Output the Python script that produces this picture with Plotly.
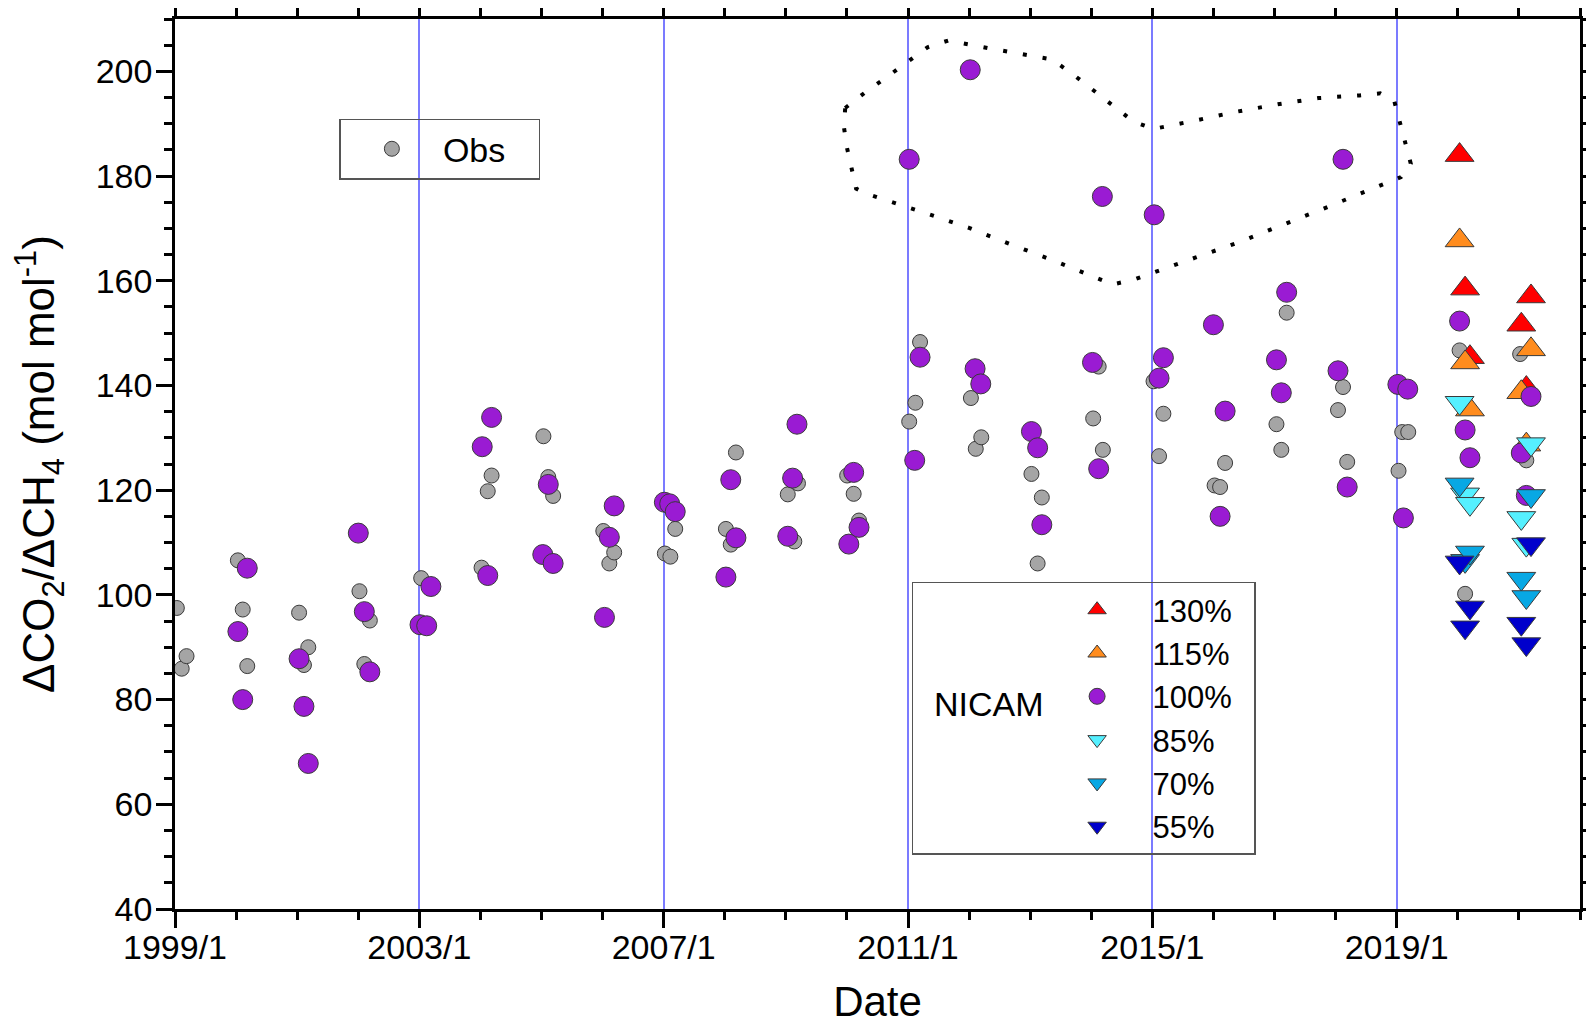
import plotly.graph_objects as go
from datetime import datetime, timedelta

# ---------------- data ----------------
obs_dates = [
    "1999-01-12", "1999-02-10", "1999-03-11",
    "2000-01-12", "2000-02-10", "2000-03-08",
    "2001-01-12", "2001-02-10", "2001-03-08",
    "2002-01-08", "2002-02-06", "2002-03-11",
    "2003-01-12",
    "2004-01-08", "2004-02-14", "2004-03-08",
    "2005-01-12", "2005-02-10", "2005-03-11",
    "2006-01-05", "2006-02-10", "2006-03-11",
    "2007-01-08", "2007-02-10", "2007-03-11",
    "2008-01-08", "2008-02-06", "2008-03-08",
    "2009-01-12", "2009-02-20", "2009-03-14",
    "2010-01-02", "2010-02-10", "2010-03-14",
    "2011-01-08", "2011-02-14", "2011-03-14",
    "2012-01-12", "2012-02-10", "2012-03-14",
    "2013-01-08", "2013-02-14", "2013-03-11",
    "2014-01-12", "2014-02-14", "2014-03-11",
    "2015-01-08", "2015-02-10", "2015-03-08",
    "2016-01-08", "2016-02-10", "2016-03-11",
    "2017-01-12", "2017-02-10", "2017-03-14",
    "2018-01-15", "2018-02-14", "2018-03-11",
    "2019-01-12", "2019-02-03", "2019-03-11",
    "2020-01-12", "2020-02-14",
    "2021-01-08", "2021-02-14",
]
obs_values = [
    97.5, 85.9, 88.3,
    106.6, 97.2, 86.4,
    96.6, 86.6, 90.0,
    100.7, 86.8, 95.1,
    103.2,
    105.2, 119.8, 122.8,
    130.3, 122.5, 118.9,
    112.2, 106.0, 108.1,
    107.9, 107.3, 112.6,
    112.6, 109.6, 127.2,
    119.2, 110.2, 121.3,
    122.8, 119.3, 114.2,
    133.1, 136.7, 148.3,
    137.6, 127.9, 130.1,
    123.1, 106.0, 118.6,
    133.7, 143.6, 127.7,
    140.8, 126.5, 134.6,
    120.9, 120.6, 125.2,
    132.6, 127.7, 153.9,
    135.3, 139.7, 125.4,
    123.7, 131.1, 131.1,
    146.7, 100.2,
    146.0, 125.7,
]

nicam100_dates = [
    "2000-01-12", "2000-02-10", "2000-03-08",
    "2001-01-12", "2001-02-10", "2001-03-08",
    "2002-01-01", "2002-02-06", "2002-03-11",
    "2003-01-05", "2003-02-14", "2003-03-11",
    "2004-01-12", "2004-02-14", "2004-03-08",
    "2005-01-08", "2005-02-10", "2005-03-11",
    "2006-01-12", "2006-02-10", "2006-03-11",
    "2007-01-05", "2007-02-06", "2007-03-11",
    "2008-01-08", "2008-02-06", "2008-03-08",
    "2009-01-12", "2009-02-10", "2009-03-08",
    "2010-01-12", "2010-02-10", "2010-03-14",
    "2011-01-08", "2011-02-10", "2011-03-14",
    "2012-01-08", "2012-02-06", "2012-03-11",
    "2013-01-08", "2013-02-14", "2013-03-11",
    "2014-01-08", "2014-02-14", "2014-03-08",
    "2015-01-12", "2015-02-10", "2015-03-08",
    "2016-01-01", "2016-02-10", "2016-03-11",
    "2017-01-12", "2017-02-10", "2017-03-14",
    "2018-01-15", "2018-02-14", "2018-03-11",
    "2019-01-08", "2019-02-10", "2019-03-08",
    "2020-01-12", "2020-02-14", "2020-03-14",
    "2021-01-15", "2021-02-14", "2021-03-14",
]
nicam100_values = [
    93.0, 80.0, 105.1,
    87.8, 78.7, 67.8,
    111.8, 96.8, 85.3,
    94.3, 94.1, 101.6,
    128.3, 103.7, 133.9,
    107.7, 121.1, 106.0,
    95.7, 111.0, 117.0,
    117.7, 117.4, 115.9,
    103.4, 122.0, 110.9,
    111.2, 122.3, 132.6,
    109.7, 123.4, 112.9,
    183.2, 125.7, 145.4,
    200.3, 143.2, 140.3,
    131.2, 128.1, 113.4,
    144.4, 124.1, 176.1,
    172.6, 141.4, 145.3,
    151.6, 115.0, 135.1,
    144.9, 138.6, 157.8,
    142.8, 183.2, 120.6,
    140.2, 114.7, 139.3,
    152.3, 131.5, 126.2,
    127.1, 119.0, 137.9,
]

scenario_dates = ["2020-01-12", "2020-02-14", "2020-03-14",
                  "2021-01-15", "2021-02-14", "2021-03-14"]
nicam130_values = [184.0, 158.5, 145.4, 151.6, 139.5, 157.0]
nicam115_values = [167.7, 144.4, 135.4, 138.7, 128.7, 146.9]
nicam85_values = [136.7, 119.2, 117.4, 114.7, 109.6, 128.8]
nicam70_values = [121.1, 106.5, 108.1, 103.1, 99.6, 118.9]
nicam55_values = [106.2, 93.8, 97.6, 94.5, 90.6, 109.7]

scenario_labels = ["130%", "115%", "100%", "85%", "70%", "55%"]

# dotted outline around the high-ratio events (decimal year, ratio)
outline_years = [2009.97, 2010.30, 2010.65, 2010.99, 2011.32, 2011.66, 2012.00, 2012.33,
                 2013.00, 2013.35, 2013.68, 2014.01, 2014.35, 2014.69, 2015.02, 2015.70,
                 2016.38, 2017.05, 2017.72, 2018.39, 2018.73, 2018.96, 2019.05, 2019.15,
                 2019.23, 2019.07, 2018.39, 2017.72, 2017.05, 2016.38, 2015.70, 2015.02,
                 2014.69, 2014.35, 2014.01, 2013.35, 2012.67, 2012.00, 2011.32, 2010.99,
                 2010.65, 2010.30, 2010.15, 2010.07, 2010.00, 2009.95, 2009.97]
outline_values = [193.0, 196.0, 198.9, 201.7, 204.6, 205.9, 205.1, 204.4,
                  203.0, 202.3, 199.6, 196.5, 193.5, 190.4, 189.0, 190.6,
                  192.3, 193.7, 194.9, 195.4, 195.8, 194.3, 190.3, 186.3,
                  182.4, 179.8, 176.5, 173.4, 170.3, 167.2, 164.4, 161.6,
                  160.2, 159.3, 160.9, 164.0, 167.0, 170.1, 172.8, 174.0,
                  175.3, 176.7, 177.6, 181.5, 185.4, 189.3, 193.0]


def decimal_year_to_date(y):
    base = datetime(int(y), 1, 1)
    return base + timedelta(days=(y - int(y)) * 365.25)


outline_dates = [decimal_year_to_date(y) for y in outline_years]

FONT = "Liberation Sans, Arial, sans-serif"
EDGE = dict(color="#3a3a3a", width=1)
NB = "\u00a0"

fig = go.Figure()

fig.add_trace(go.Scatter(
    x=outline_dates, y=outline_values, mode="lines",
    line=dict(color="black", width=4, dash="4px,16px"),
    showlegend=False, hoverinfo="skip"))

fig.add_trace(go.Scatter(
    x=obs_dates, y=obs_values, mode="markers", name="Obs" + NB * 3, legend="legend",
    marker=dict(symbol="circle", size=15, color="#A5A5A5", line=EDGE)))

scen = [
    (scenario_dates, nicam130_values, "triangle-up", 25, "#FF0000"),
    (scenario_dates, nicam115_values, "triangle-up", 25, "#FF8C1E"),
    (nicam100_dates, nicam100_values, "circle", 20, "#9A1BD3"),
    (scenario_dates, nicam85_values, "triangle-down", 25, "#55F0FF"),
    (scenario_dates, nicam70_values, "triangle-down", 25, "#08A8E4"),
    (scenario_dates, nicam55_values, "triangle-down", 25, "#0000CC"),
]
for (xs, ys, sym, sz, col), lab in zip(scen, scenario_labels):
    fig.add_trace(go.Scatter(
        x=xs, y=ys, mode="markers", name=lab + NB * 2, legend="legend2",
        marker=dict(symbol=sym, size=sz, color=col, line=EDGE)))

axis_common = dict(
    ticks="outside", tickcolor="black", tickwidth=2.5, ticklen=16,
    showline=True, linecolor="black", linewidth=2.5, mirror="allticks",
    tickfont=dict(family=FONT, size=34, color="black"),
)

# the page is drawn with an 8 px body margin, so the figure is 8 px smaller
fig.update_layout(
    width=1586, height=1017,
    margin=dict(l=167, r=14, t=11, b=116),
    plot_bgcolor="white", paper_bgcolor="white",
    font=dict(family=FONT, size=32, color="black"),
    xaxis=dict(
        type="date",
        range=["1999-01-01", "2022-01-01"],
        tick0="1999-01-01", dtick="M48", tickformat="%Y/%-m",
        showgrid=True, gridcolor="#7B7BFF", gridwidth=1.5,
        zeroline=False,
        minor=dict(tick0="1999-01-01", dtick="M12", ticks="outside", ticklen=8,
                   tickwidth=2.5, tickcolor="black", showgrid=False),
        title=dict(text="Date", font=dict(family=FONT, size=42), standoff=32),
        ticklabelstandoff=-10,
        automargin=False,
        **axis_common,
    ),
    yaxis=dict(
        range=[40, 210], tick0=0, dtick=20,
        showgrid=False, zeroline=False,
        minor=dict(dtick=5, ticks="outside", ticklen=8, tickwidth=2.5,
                   tickcolor="black", showgrid=False),
        title=dict(text="ΔCO<sub>2</sub>/ΔCH<sub>4</sub> (mol mol<sup>-1</sup>)",
                   font=dict(family=FONT, size=44), standoff=40),
        ticklabelstandoff=-3,
        automargin="left",
        **axis_common,
    ),
    legend=dict(
        x=0.117, y=0.888, xanchor="left", yanchor="top",
        bgcolor="rgba(0,0,0,0)", bordercolor="#555555", borderwidth=1.5,
        font=dict(family=FONT, size=34, color="black"),
        itemwidth=92,
    ),
    legend2=dict(
        x=0.5243, y=0.3679, xanchor="left", yanchor="top",
        bgcolor="rgba(0,0,0,0)", bordercolor="#555555", borderwidth=1.5,
        font=dict(family=FONT, size=31, color="black"),
        title=dict(text="<br><br>" + NB * 2 + "NICAM", side="left",
                   font=dict(family=FONT, size=34)),
        itemwidth=101,
        indentation=-10,
    ),
)

fig.write_html("out.html")
